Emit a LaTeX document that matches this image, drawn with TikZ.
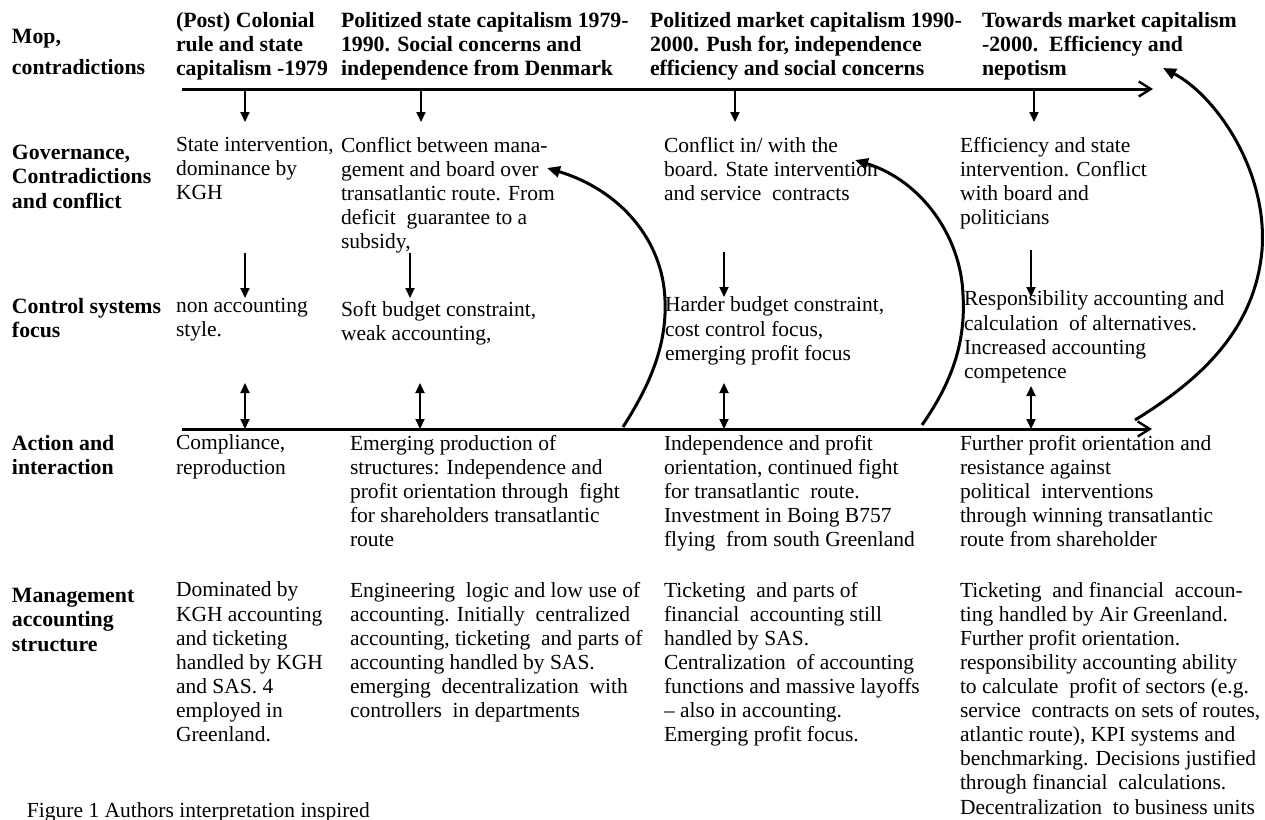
\documentclass[tikz,border=0pt]{standalone}
\usepackage{fontspec}
\setmainfont{Liberation Serif}
\usetikzlibrary{arrows.meta}
\begin{document}
\begin{tikzpicture}[x=1pt,y=-1pt,
  every node/.style={inner sep=0pt,outer sep=0pt},
  body/.style={font=\fontsize{21.5}{24.1}\selectfont,align=left,anchor=north west,execute at begin node=\strut},
  head/.style={font=\fontsize{21.8}{24.4}\selectfont\bfseries,align=left,anchor=north west,execute at begin node=\strut},
  axisline/.style={line width=3pt,-{Straight Barb[length=12pt,width=15pt,line width=2.4pt]}},
  downarrow/.style={line width=2pt,-{Triangle[length=10pt,width=9pt]}},
  botharrow/.style={line width=2pt,{Triangle[length=10pt,width=9pt]}-{Triangle[length=10pt,width=9pt]}},
  looparrow/.style={line width=3pt,-{Triangle[length=13pt,width=11pt]}}]
\fill[white] (0,0) rectangle (1265,819);
\useasboundingbox (0,0) rectangle (1265,819);

% row labels
\node[head] (lMop) at (12,26) {Mop,};
\node[head] (lContr) at (12,57) {contradictions};
\node[head] (lGov) at (12,145) {Governance,\\Contradictions\\and conflict};
\node[head] (lCtrl) at (12,298) {Control systems\\focus};
\node[head] (lAct) at (12,435) {Action and\\interaction};
\node[head] (lMgmt) at (12,588) {Management\\accounting\\structure};

% period headers
\node[head] (h1) at (176,12) {(Post) Colonial\\rule and state\\capitalism -1979};
\node[head] (h2) at (341,12) {Politized state capitalism 1979-\\1990. Social concerns and\\independence from Denmark};
\node[head] (h3) at (650,12) {Politized market capitalism 1990-\\2000. Push for, independence\\efficiency and social concerns};
\node[head] (h4) at (982,12) {Towards market capitalism\\-2000.\ \ Efficiency and\\nepotism};

% governance
\node[body] (g1) at (176,137) {State intervention,\\dominance by\\KGH};
\node[body] (g2) at (341,137) {Conflict between mana-\\gement and board over\\transatlantic route. From\\deficit\ \ guarantee to a\\subsidy,};
\node[body] (g3) at (664,137) {Conflict in/ with the\\board. State intervention\\and service\ \ contracts};
\node[body] (g4) at (960,137) {Efficiency and state\\intervention. Conflict\\with board and\\politicians};

% control systems
\node[body] (c1) at (176,298) {non accounting\\style.};
\node[body] (c2) at (341,301) {Soft budget constraint,\\weak accounting,};
\node[body] (c3) at (665,297) {Harder budget constraint,\\cost control focus,\\emerging profit focus};
\node[body] (c4) at (964,291) {Responsibility accounting and\\calculation\ \ of alternatives.\\Increased accounting\\competence};

% action and interaction
\node[body] (a1) at (176,435) {Compliance,\\reproduction};
\node[body] (a2) at (350,435) {Emerging production of\\structures: Independence and\\profit orientation through\ \ fight\\for shareholders transatlantic\\route};
\node[body] (a3) at (664,435) {Independence and profit\\orientation, continued fight\\for transatlantic\ \ route.\\Investment in Boing B757\\flying\ \ from south Greenland};
\node[body] (a4) at (960,435) {Further profit orientation and\\resistance against\\political\ \ interventions\\through winning transatlantic\\route from shareholder};

% management accounting structure
\node[body] (m1) at (176,582) {Dominated by\\KGH accounting\\and ticketing\\handled by KGH\\and SAS. 4\\employed in\\Greenland.};
\node[body] (m2) at (350,582) {Engineering\ \ logic and low use of\\accounting. Initially\ \ centralized\\accounting, ticketing\ \ and parts of\\accounting handled by SAS.\\emerging\ \ decentralization\ \ with\\controllers\ \ in departments};
\node[body] (m3) at (664,582) {Ticketing\ \ and parts of\\financial\ \ accounting still\\handled by SAS.\\Centralization\ \ of accounting\\functions and massive layoffs\\– also in accounting.\\Emerging profit focus.};
\node[body] (m4) at (960,582) {Ticketing\ \ and financial\ \ accoun-\\ting handled by Air Greenland.\\Further profit orientation.\\responsibility accounting ability\\to calculate\ \ profit of sectors (e.g.\\service\ \ contracts on sets of routes,\\atlantic route), KPI systems and\\benchmarking. Decisions justified\\through financial\ \ calculations.\\Decentralization\ \ to business units};

% caption
\node[body] (cap) at (27,801) {Figure 1 Authors interpretation inspired};

% axes
\coordinate (tA) at (182,89);
\coordinate (tB) at (1153,89);
\coordinate (bA) at (182,429);
\coordinate (bB) at (1152,429);
\draw[axisline] (tA) -- (tB);
\draw[axisline] (bA) -- (bB);

% arrows from top axis to governance
\coordinate (d1s) at (245,89);  \coordinate (d1e) at (245,122);
\coordinate (d2s) at (421,89);  \coordinate (d2e) at (421,122);
\coordinate (d3s) at (735,89);  \coordinate (d3e) at (735,122);
\coordinate (d4s) at (1034,89); \coordinate (d4e) at (1034,122);
\draw[downarrow] (d1s) -- (d1e);
\draw[downarrow] (d2s) -- (d2e);
\draw[downarrow] (d3s) -- (d3e);
\draw[downarrow] (d4s) -- (d4e);

% arrows from governance to control systems
\coordinate (e1s) at (245,253);  \coordinate (e1e) at (245,298);
\coordinate (e2s) at (410,253);  \coordinate (e2e) at (410,298);
\coordinate (e3s) at (724,252);  \coordinate (e3e) at (724,297);
\coordinate (e4s) at (1031,250); \coordinate (e4e) at (1031,297);
\draw[downarrow] (e1s) -- (e1e);
\draw[downarrow] (e2s) -- (e2e);
\draw[downarrow] (e3s) -- (e3e);
\draw[downarrow] (e4s) -- (e4e);

% double arrows between control systems and action axis
\coordinate (f1s) at (245,383);  \coordinate (f1e) at (245,429);
\coordinate (f2s) at (420,383);  \coordinate (f2e) at (420,429);
\coordinate (f3s) at (724,383);  \coordinate (f3e) at (724,429);
\coordinate (f4s) at (1031,386); \coordinate (f4e) at (1031,429);
\draw[botharrow] (f1s) -- (f1e);
\draw[botharrow] (f2s) -- (f2e);
\draw[botharrow] (f3s) -- (f3e);
\draw[botharrow] (f4s) -- (f4e);

% feedback loops
\coordinate (k1s) at (623,427); \coordinate (k1m) at (665,300); \coordinate (k1e) at (547,168);
\coordinate (k2s) at (922,425); \coordinate (k2m) at (963,295); \coordinate (k2e) at (855,160);
\coordinate (k3s) at (1135,420); \coordinate (k3m) at (1262,250); \coordinate (k3e) at (1163,68);
\draw[looparrow] (k1s) .. controls (650,385) and (667,345) .. (k1m)
  .. controls (663,240) and (620,190) .. (k1e);
\draw[looparrow] (k2s) .. controls (950,385) and (966,345) .. (k2m)
  .. controls (961,235) and (920,180) .. (k2e);
\draw[looparrow] (k3s) .. controls (1200,380) and (1255,330) .. (k3m)
  .. controls (1268,170) and (1215,95) .. (k3e);
\end{tikzpicture}
\end{document}
